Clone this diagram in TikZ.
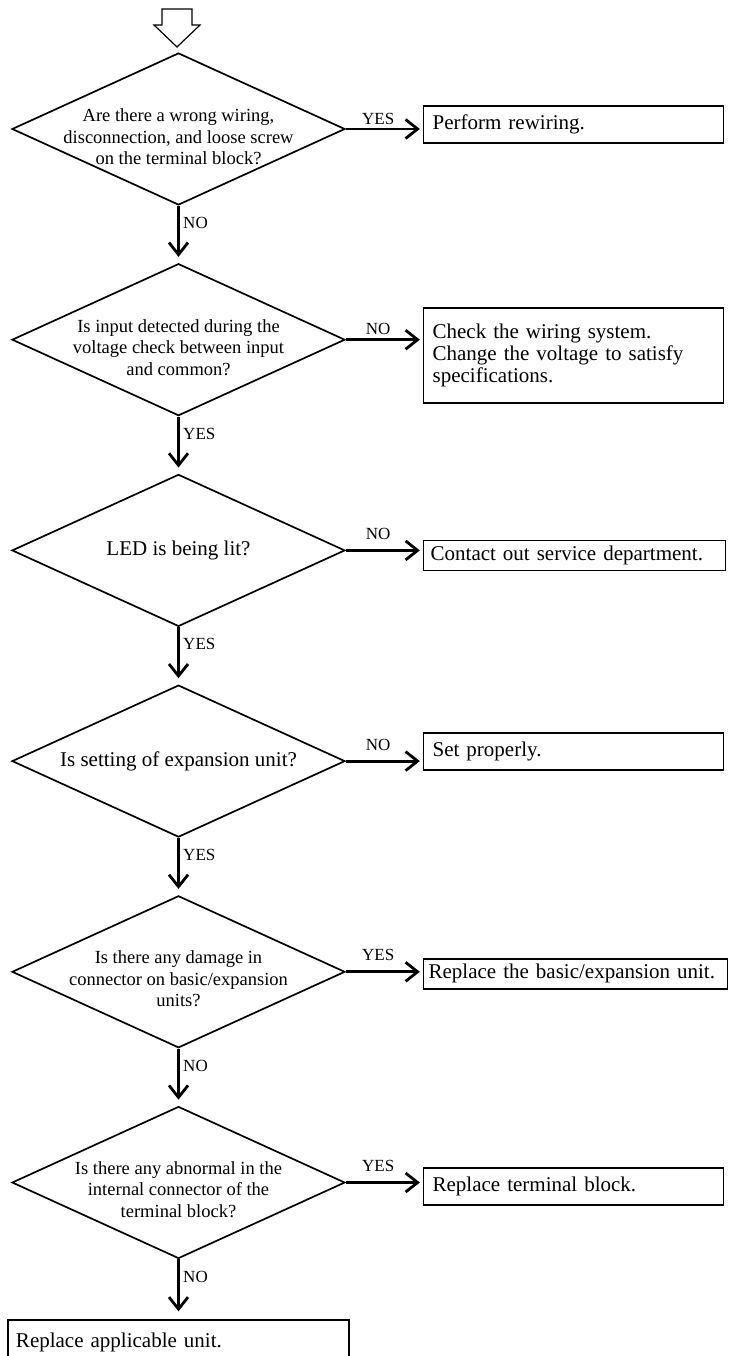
\documentclass[tikz,border=0pt]{standalone}
\usepackage{fontspec}
\setmainfont{Liberation Serif}
\usetikzlibrary{positioning}
\usetikzlibrary{shapes.geometric}
\usetikzlibrary{arrows.meta}

\begin{document}
\begin{tikzpicture}[x=1pt, y=-1pt, node distance={57pt},
    decision/.style = {draw, diamond, line width=1.7pt, minimum width=333pt, minimum height=152pt, inner sep=0pt},
    question/.style = {align=center, font=\fontsize{18.5}{21.5}\selectfont},
    action/.style = {draw, rectangle, line width=1.6pt, text width=282pt, inner xsep=9pt, align=left, font=\fontsize{21}{22}\selectfont},
    flow/.style = {line width=2.8pt, -{Straight Barb[length=12pt, width=19pt]}},
    answer/.style = {font=\fontsize{17}{17}\selectfont}]
    \useasboundingbox (0,0) rectangle (728,1356);

    % entry arrow
    \draw[line width=1.2pt] (162,9) -- (192,9) -- (192,25) -- (200,25) -- (177,47) -- (154,25) -- (162,25) -- cycle;

    % checks
    \node[decision] (d1) at (178.5,129) {};
    \node[decision] (d2) [below=of d1] {};
    \node[decision] (d3) [below=of d2] {};
    \node[decision] (d4) [below=of d3] {};
    \node[decision] (d5) [below=of d4] {};
    \node[decision] (d6) [below=of d5] {};

    \node[question, yshift=-8pt] (q1) at (d1) {Are there a wrong wiring,\\disconnection, and loose screw\\on the terminal block?};
    \node[question, yshift=-8pt] (q2) at (d2) {Is input detected during the\\voltage check between input\\and common?};
    \node[question, font=\fontsize{21}{22}\selectfont] (q3) at (d3) {LED is being lit?};
    \node[question, font=\fontsize{21}{22}\selectfont] (q4) at (d4) {Is setting of expansion unit?};
    \node[question, yshift=-7pt] (q5) at (d5) {Is there any damage in\\connector on basic/expansion\\units?};
    \node[question, yshift=-7pt] (q6) at (d6) {Is there any abnormal in the\\internal connector of the\\terminal block?};

    % remedies
    \node[action, minimum height=37pt] (b1) [right=77pt of d1, yshift=4.5pt] {Perform rewiring.};
    \node[action, minimum height=95pt] (b2) [right=77pt of d2, yshift=-15.5pt] {Check the wiring system.\\Change the voltage to satisfy\\specifications.};
    \node[action, minimum height=30pt, text width=288pt, inner xsep=7pt] (b3) [right=77pt of d3, yshift=-5pt] {Contact out service department.};
    \node[action, minimum height=37pt] (b4) [right=77pt of d4, yshift=9.5pt] {Set properly.};
    \node[action, minimum height=30pt, text width=294pt, inner xsep=5pt] (b5) [right=77pt of d5, yshift=-2pt] {Replace the basic/expansion unit.};
    \node[action, minimum height=37pt] (b6) [right=77pt of d6, yshift=-4pt] {Replace terminal block.};
    \node[action, minimum height=44pt, text width=325pt, inner xsep=8pt] (b7) [below=60pt of d6] {Replace applicable unit.};

    \draw[flow, shorten >=6pt] (d1) -- (d2) node[answer, pos=0.3, right] {NO};
    \draw[flow, shorten >=6pt] (d2) -- (d3) node[answer, pos=0.3, right] {YES};
    \draw[flow, shorten >=6pt] (d3) -- (d4) node[answer, pos=0.3, right] {YES};
    \draw[flow, shorten >=6pt] (d4) -- (d5) node[answer, pos=0.3, right] {YES};
    \draw[flow, shorten >=6pt] (d5) -- (d6) node[answer, pos=0.3, right] {NO};
    \draw[flow, shorten >=8pt] (d6) -- (b7) node[answer, pos=0.3, right] {NO};

    \draw[flow, shorten >=3pt] (d1.east) -- (d1.east -| b1.west) node[answer, pos=0.42, above] {YES};
    \draw[flow, shorten >=3pt] (d2.east) -- (d2.east -| b2.west) node[answer, pos=0.42, above] {NO};
    \draw[flow, shorten >=3pt] (d3.east) -- (d3.east -| b3.west) node[answer, pos=0.42, above=6pt] {NO};
    \draw[flow, shorten >=3pt] (d4.east) -- (d4.east -| b4.west) node[answer, pos=0.42, above=6pt] {NO};
    \draw[flow, shorten >=3pt] (d5.east) -- (d5.east -| b5.west) node[answer, pos=0.42, above=6pt] {YES};
    \draw[flow, shorten >=3pt] (d6.east) -- (d6.east -| b6.west) node[answer, pos=0.42, above=6pt] {YES};
\end{tikzpicture}
\end{document}
